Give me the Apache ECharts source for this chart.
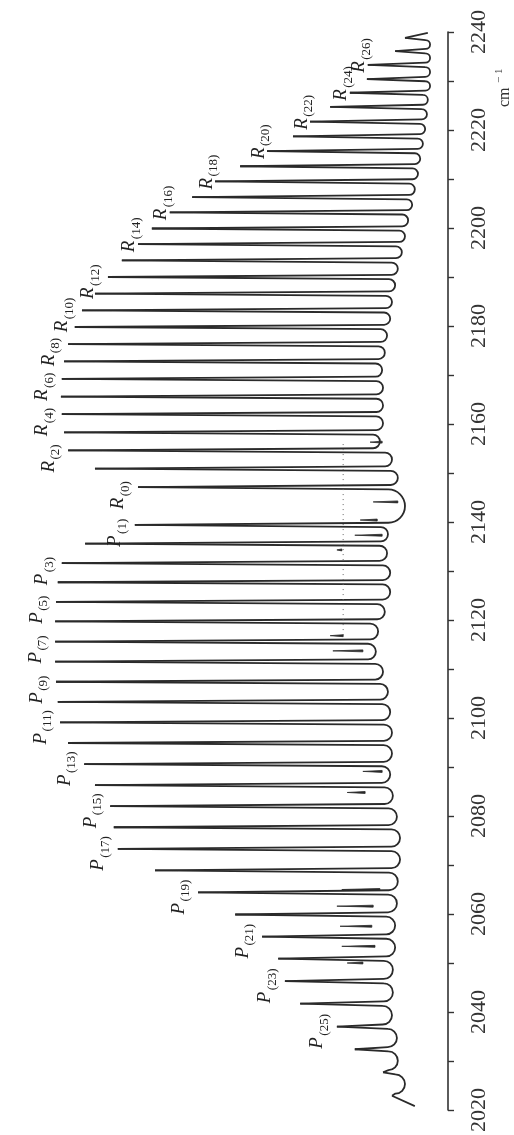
<!DOCTYPE html>
<html><head><meta charset="utf-8">
<script src="https://cdn.jsdelivr.net/npm/echarts@6/dist/echarts.min.js"></script>
<style>html,body{margin:0;padding:0;background:#fff}#c{width:514px;height:1135px}</style>
</head><body><div id="c"></div>
<script>
// P-branch line positions (cm^-1) for P(1)..P(28) and their transmittance at the line tip (%)
const pPos = [2139.4, 2135.6, 2131.6, 2127.7, 2123.7, 2119.7, 2115.6, 2111.5, 2107.4, 2103.3, 2099.1, 2094.9, 2090.6, 2086.3, 2082.0, 2077.7, 2073.3, 2068.9, 2064.4, 2059.9, 2055.4, 2050.9, 2046.3, 2041.7, 2037.0, 2032.4, 2027.7, 2022.9];
const pTip = [30.1, 19.0, 13.8, 12.9, 12.5, 12.3, 12.3, 12.3, 12.5, 12.9, 13.4, 15.2, 18.8, 21.2, 24.6, 25.4, 26.3, 34.6, 44.2, 52.5, 58.5, 62.1, 63.6, 67.0, 75.2, 79.2, 85.5, 87.5];
// R-branch line positions for R(0)..R(28) and tip transmittance (%)
const rPos = [2147.1, 2150.9, 2154.6, 2158.3, 2162.0, 2165.6, 2169.2, 2172.8, 2176.3, 2179.8, 2183.2, 2186.6, 2190.0, 2193.4, 2196.7, 2199.9, 2203.2, 2206.3, 2209.5, 2212.6, 2215.7, 2218.7, 2221.7, 2224.7, 2227.6, 2230.4, 2233.3, 2236.1, 2238.8];
const rTip = [30.8, 21.2, 15.2, 14.3, 13.8, 13.6, 13.8, 14.3, 15.2, 16.7, 18.3, 21.2, 24.1, 27.2, 30.8, 33.9, 37.9, 42.9, 48.0, 53.6, 59.6, 65.4, 69.2, 73.7, 78.1, 81.9, 82.1, 88.2, 90.4];
// baseline transmittance between consecutive lines, ascending wavenumber (P28-P27 ... P2-P1, P1-R0, R0-R1 ... R27-R28)
const gapBase = [90.4, 88.8, 88.6, 87.5, 87.7, 87.7, 88.2, 88.2, 88.6, 88.8, 89.3, 89.3, 88.6, 87.7, 87.1, 87.5, 87.5, 87.1, 86.6, 85.5, 83.9, 84.4, 85.9, 87.1, 87.1, 86.4, 86.6,
  90.4,
  88.8, 87.5, 84.8, 85.5, 85.5, 85.5, 85.3, 85.9, 86.4, 87.1, 87.5, 88.2, 88.8, 89.7, 90.4, 91.1, 92.0, 92.6, 93.3, 93.8, 94.4, 94.9, 95.3, 95.5, 96.0, 96.0, 96.0, 96.0];
// trace ends
const traceStart = [92.6, 2020.8];
const traceEnd = [95.5, 2239.8];
// weak secondary absorptions: position, tip, right end (%)
const weakPos = [2156.3, 2144.1, 2140.4, 2137.3, 2134.3, 2116.8, 2113.7, 2089.1, 2084.8, 2065.0, 2061.6, 2057.5, 2053.4, 2050.0];
const weakTip = [82.6, 83.3, 80.4, 79.2, 75.2, 73.7, 74.3, 81.0, 77.5, 76.3, 75.2, 75.9, 76.3, 77.5];
const weakEnd = [85.3, 88.8, 84.2, 85.3, 76.3, 76.6, 81.0, 85.3, 81.5, 84.8, 83.3, 83.0, 83.7, 81.0];
// dotted guide line
const guide = [[76.6, 2155.9], [76.6, 2116.2]];
// labelled lines
const rLabelJ = [0, 2, 4, 6, 8, 10, 12, 14, 16, 18, 20, 22, 24, 26];
const pLabelJ = [1, 3, 5, 7, 9, 11, 13, 15, 17, 19, 21, 23, 25];
const axisMin = 2020, axisMax = 2240, axisStep = 10, labelStep = 20;

// ---- build ----
const linesW = [], linesT = [];
for (let i = pPos.length - 1; i >= 0; i--) { linesW.push(pPos[i]); linesT.push(pTip[i]); }
for (let i = 0; i < rPos.length; i++) { linesW.push(rPos[i]); linesT.push(rTip[i]); }
const gaps = [];
for (let i = 0; i < linesW.length - 1; i++) gaps.push([linesW[i], linesT[i], linesW[i + 1], linesT[i + 1], gapBase[i]]);

const labelList = [];
rLabelJ.forEach(j => labelList.push({ b: 'R', j: j, t: rTip[j], w: rPos[j] }));
pLabelJ.forEach(j => labelList.push({ b: 'P', j: j, t: pTip[j - 1], w: pPos[j - 1] }));

const INK = '#2a2a2a';
const chart = echarts.init(document.getElementById('c'), null, { renderer: 'canvas' });
chart.setOption({
  animation: false,
  backgroundColor: '#ffffff',
  grid: { left: 0, right: 66, top: 32, bottom: 23, containLabel: false },
  xAxis: { type: 'value', min: 0, max: 100, show: false },
  yAxis: {
    type: 'value', min: axisMin, max: axisMax, interval: axisStep, position: 'right',
    axisLine: { show: true, onZero: false, lineStyle: { color: '#333', width: 1.6 } },
    axisTick: { show: true, inside: false, length: 6, lineStyle: { color: '#333', width: 1.4 } },
    splitLine: { show: false },
    axisLabel: {
      rotate: 90, margin: 20, color: '#333', fontFamily: 'Liberation Serif', fontSize: 22,
      formatter: v => (v % labelStep === 0 ? String(v) : '')
    }
  },
  series: [
    {
      type: 'custom', coordinateSystem: 'cartesian2d', silent: true, clip: false,
      data: gaps,
      renderItem: function (params, api) {
        const wA = api.value(0), tA = api.value(1), wB = api.value(2), tB = api.value(3), b = api.value(4);
        const pA = api.coord([tA, wA]), pB = api.coord([tB, wB]);
        const xr = api.coord([b, wA])[0];
        const s = 2.2;
        const yA = pA[1], yB = pB[1];
        const r = Math.max(2, (yA - yB) / 2 - s);
        const ym = (yA + yB) / 2, k = 0.552 * r, x0 = xr - r;
        const d = 'M' + pA[0] + ',' + yA + ' L' + x0 + ',' + (yA - s) +
          ' C' + (x0 + k) + ',' + (yA - s) + ' ' + xr + ',' + (ym + k) + ' ' + xr + ',' + ym +
          ' C' + xr + ',' + (ym - k) + ' ' + (x0 + k) + ',' + (yB + s) + ' ' + x0 + ',' + (yB + s) +
          ' L' + pB[0] + ',' + yB;
        return { type: 'path', shape: { pathData: d }, style: { fill: 'none', stroke: INK, lineWidth: 1.8, lineJoin: 'round' } };
      }
    },
    {
      type: 'line', silent: true, symbol: 'none', lineStyle: { color: INK, width: 1.8 },
      data: [traceStart, [pTip[pTip.length - 1], pPos[pPos.length - 1]]]
    },
    {
      type: 'line', silent: true, symbol: 'none', lineStyle: { color: INK, width: 1.8 },
      data: [[rTip[rTip.length - 1], rPos[rPos.length - 1]], traceEnd]
    },
    {
      type: 'custom', coordinateSystem: 'cartesian2d', silent: true, clip: false,
      data: weakPos.map((w, i) => [weakTip[i], w, weakEnd[i]]),
      renderItem: function (params, api) {
        const w = api.value(1);
        const p = api.coord([api.value(0), w]);
        const e1 = api.coord([api.value(2), w + 0.2]);
        const e2 = api.coord([api.value(2), w - 0.2]);
        return { type: 'polygon', shape: { points: [p, e1, e2] }, style: { fill: INK, stroke: INK, lineWidth: 0.8 } };
      }
    },
    {
      type: 'line', silent: true, symbol: 'none', lineStyle: { color: '#666', width: 1, type: [1, 4] },
      data: guide
    },
    {
      type: 'custom', coordinateSystem: 'cartesian2d', silent: true, clip: false,
      data: labelList.map(l => [l.t, l.w]),
      renderItem: function (params, api) {
        const L = labelList[params.dataIndex];
        const p = api.coord([api.value(0), api.value(1)]);
        const beside = L.b === 'P' || L.j <= 12;
        const ox = p[0] + (beside ? -10 : 1);
        const oy = p[1] + (beside ? 22 : 8);
        return {
          type: 'group', x: ox, y: oy, rotation: Math.PI / 2,
          children: [
            { type: 'text', x: 0, y: 0, style: { text: L.b, font: 'italic 19px "Liberation Serif"', fill: '#222', align: 'left', verticalAlign: 'bottom' } },
            { type: 'text', x: 13, y: 4, style: { text: '(' + L.j + ')', font: '13px "Liberation Serif"', fill: '#222', align: 'left', verticalAlign: 'bottom' } }
          ]
        };
      }
    }
  ],
  graphic: [
    {
      type: 'group', x: 513, y: 107, rotation: Math.PI / 2,
      children: [
        { type: 'text', x: 0, y: 0, style: { text: 'cm', font: '16px "Liberation Serif"', fill: '#333', align: 'left', verticalAlign: 'bottom' } },
        { type: 'text', x: 24, y: -8, style: { text: '\u2212 1', font: '11px "Liberation Serif"', fill: '#333', align: 'left', verticalAlign: 'bottom' } }
      ]
    }
  ]
});
</script>
</body></html>
